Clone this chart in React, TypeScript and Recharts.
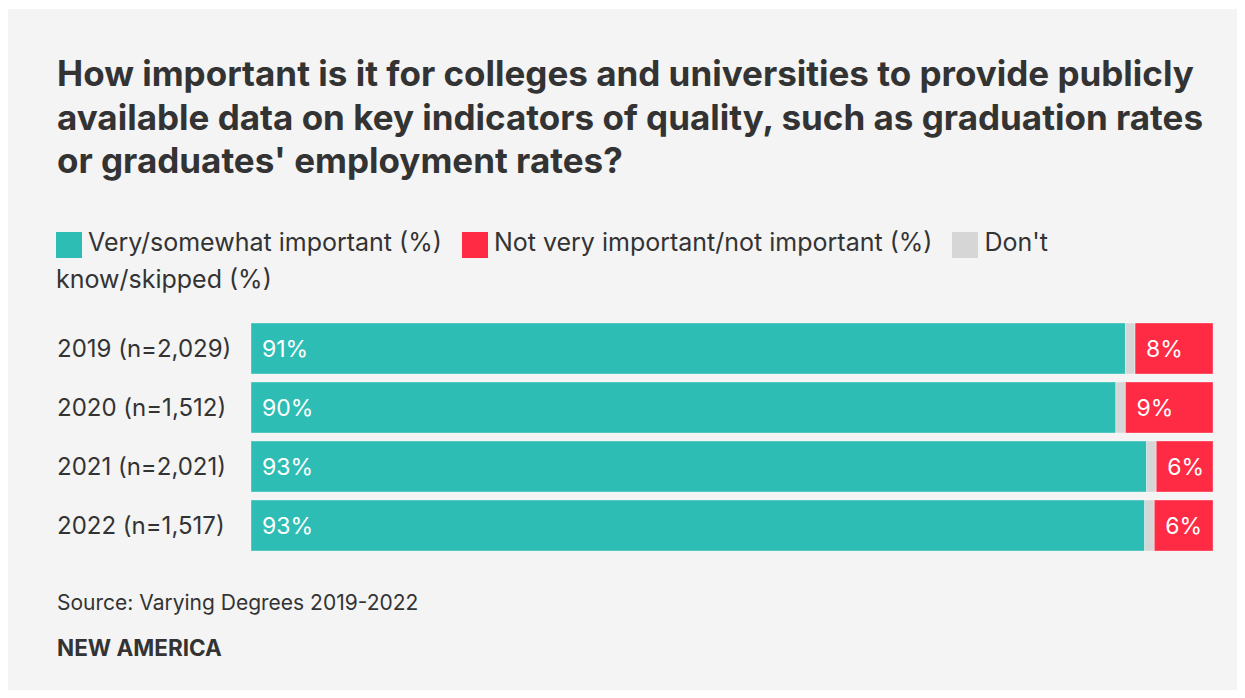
import { Fragment } from 'react';
import { BarChart, Bar, XAxis, YAxis, LabelList } from 'recharts';

const years = ['2019 (n=2,029)', '2020 (n=1,512)', '2021 (n=2,021)', '2022 (n=1,517)'];
const important = [90.9, 89.9, 93.1, 92.9];
const dontKnow = [1.0, 1.0, 1.0, 1.0];
const notImportant = [8.1, 9.1, 5.9, 6.1];

const titleLines = [
  'How important is it for colleges and universities to provide publicly',
  'available data on key indicators of quality, such as graduation rates',
  "or graduates' employment rates?",
];

const TEAL = '#2ebdb4';
const RED = '#ff2a43';
const GRAY = '#d6d6d6';
const TEXT = '#333333';
const FONT = 'Inter, "Noto Sans", sans-serif';

const legendItems = [
  { label: 'Very/somewhat important (%)', color: TEAL },
  { label: 'Not very important/not important (%)', color: RED },
  { label: "Don't know/skipped (%)", color: GRAY },
];

const data = years.map((year, i) => ({
  year,
  important: important[i],
  dontKnow: dontKnow[i],
  notImportant: notImportant[i],
}));

// category labels are left-aligned at the chart's left edge
const YearTick = (props: any) => {
  const { y, payload } = props;
  return (
    <text x={0} y={y} dy={8} textAnchor="start" fill={TEXT} fontSize={24} fontFamily={FONT}>
      {payload.value}
    </text>
  );
};

const pct = (v: any) => `${Math.round(Number(v))}%`;

export default function App() {
  return (
    <div
      style={{
        position: 'relative',
        width: 1230,
        height: 681,
        marginTop: 1,
        background: '#f4f4f4',
        fontFamily: FONT,
        color: TEXT,
      }}
    >
      <div
        style={{
          position: 'absolute',
          left: 49,
          top: 43,
          width: 1180,
          fontSize: 35,
          fontWeight: 700,
          lineHeight: '43.5px',
          whiteSpace: 'nowrap',
        }}
      >
        {titleLines.map((line) => (
          <div key={line}>{line}</div>
        ))}
      </div>

      {/* legend flows like text, so the last label wraps onto a second line */}
      <div
        style={{
          position: 'absolute',
          left: 48,
          top: 215,
          width: 1040,
          fontSize: 25,
          lineHeight: '37px',
        }}
      >
        {legendItems.map((item, i) => (
          <Fragment key={item.label}>
            <span
              style={{
                display: 'inline-block',
                width: 26,
                height: 26,
                background: item.color,
                verticalAlign: -7,
                marginRight: 6,
                marginLeft: i === 0 ? 0 : 20,
              }}
            />
            {item.label.split(' ').map((word, j, arr) => (
              <Fragment key={j}>
                <span>{word}</span>
                {j < arr.length - 1 ? ' ' : ''}
              </Fragment>
            ))}
          </Fragment>
        ))}
      </div>

      <div style={{ position: 'absolute', left: 49, top: 310 }}>
        <BarChart
          width={1156}
          height={236}
          data={data}
          layout="vertical"
          margin={{ top: 0, right: 0, bottom: 0, left: 0 }}
          barSize={51}
        >
          <XAxis type="number" domain={[0, 100]} hide allowDataOverflow />
          <YAxis
            type="category"
            dataKey="year"
            width={194}
            axisLine={false}
            tickLine={false}
            tick={<YearTick />}
          />
          <Bar dataKey="important" stackId="a" fill={TEAL} stroke="#ffffff" strokeOpacity={0.35} isAnimationActive={false}>
            <LabelList dataKey="important" position="insideLeft" offset={11} formatter={pct} fill="#ffffff" fontSize={23} fontFamily={FONT} />
          </Bar>
          <Bar dataKey="dontKnow" stackId="a" fill={GRAY} stroke="#ffffff" strokeOpacity={0.35} isAnimationActive={false} />
          <Bar dataKey="notImportant" stackId="a" fill={RED} stroke="#ffffff" strokeOpacity={0.35} isAnimationActive={false}>
            <LabelList dataKey="notImportant" position="insideLeft" offset={11} formatter={pct} fill="#ffffff" fontSize={23} fontFamily={FONT} />
          </Bar>
        </BarChart>
      </div>

      <div style={{ position: 'absolute', left: 49, top: 583, fontSize: 21, lineHeight: '21px' }}>
        Source: Varying Degrees 2019-2022
      </div>
      <div style={{ position: 'absolute', left: 49, top: 628, fontSize: 22.5, lineHeight: '22.5px', fontWeight: 700 }}>
        NEW AMERICA
      </div>
    </div>
  );
}
